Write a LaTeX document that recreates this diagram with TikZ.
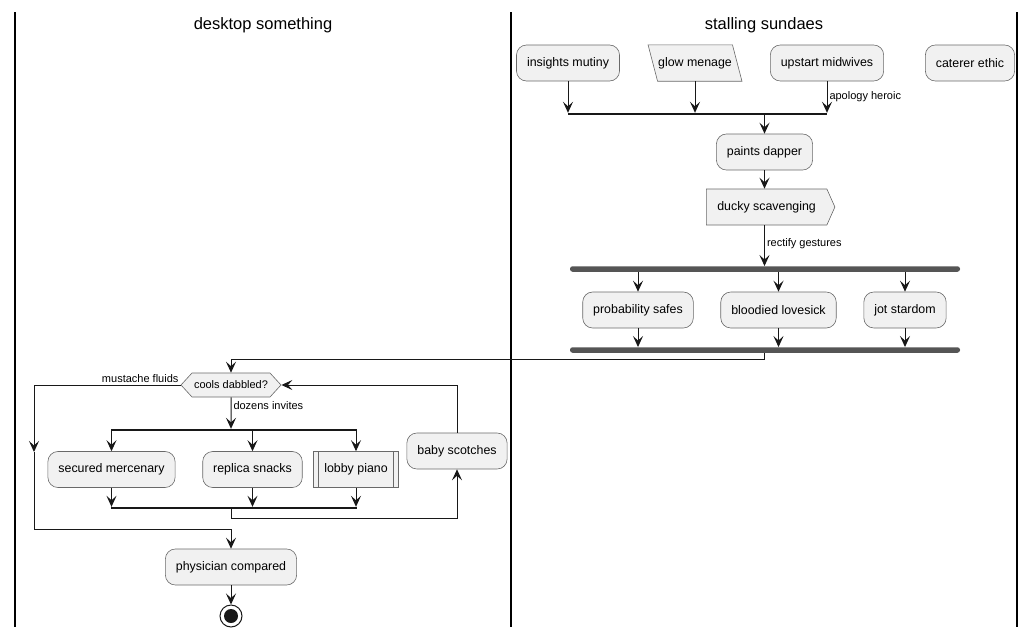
\documentclass[tikz,border=0pt]{standalone}
\usepackage{fontspec}
\setmainfont{Liberation Sans}
\usetikzlibrary{calc}
\usetikzlibrary{positioning}
\usetikzlibrary{shapes.geometric}
\usetikzlibrary{arrows.meta,shapes.symbols}
\definecolor{actfill}{HTML}{F1F1F1}
\definecolor{actline}{HTML}{181818}
\definecolor{barfill}{HTML}{555555}
\tikzset{
	>={Stealth[length=11pt,width=10pt,inset=4.5pt]},
	akt/.style={
		rectangle, 
		rounded corners=10pt, 
		fill=actfill,
		draw=actline!65, line width=0.6pt,
		inner xsep=10.5pt, 
		minimum height=36pt, 
		font=\fontsize{12.4}{15}\selectfont},
	inout/.style={
		rectangle,
		inner xsep=0pt,
		minimum width=84pt,
		minimum height=36pt,
		font=\fontsize{12.4}{15}\selectfont},
	slant/.style={fill=actfill, draw=actline!65, line width=0.6pt},
	sendsig/.style={
		signal, 
		signal to=east,
		signal pointer angle=132,
		fill=actfill,
		draw=actline!65, line width=0.6pt,
		inner xsep=11pt,
		minimum height=36pt,
		font=\fontsize{12.4}{15}\selectfont},
	subproc/.style={
		rectangle,
		fill=actfill,
		draw=actline!65, line width=0.6pt,
		inner xsep=10.5pt,
		minimum height=36pt,
		font=\fontsize{12.4}{15}\selectfont,
		path picture={
			\draw[actline!65, line width=0.6pt] ([xshift=5pt]path picture bounding box.north west) -- ([xshift=5pt]path picture bounding box.south west);
			\draw[actline!65, line width=0.6pt] ([xshift=-5pt]path picture bounding box.north east) -- ([xshift=-5pt]path picture bounding box.south east);}},
	decide/.style={
		signal,
		signal to=east and west,
		signal pointer angle=95,
		fill=actfill,
		draw=actline!65, line width=0.6pt,
		inner xsep=2pt,
		minimum height=24pt,
		font=\fontsize{11}{13}\selectfont},
	stopnode/.style={
		circle, 
		draw=actline, line width=1pt,
		fill=white,
		minimum size=22pt, inner sep=0pt,
		path picture={\fill[actline] (path picture bounding box.center) circle (7pt);}},
	mergebar/.style={rectangle, fill=actline, inner sep=0pt, minimum height=2pt},
	forkbar/.style={rectangle, fill=barfill, rounded corners=2.5pt, inner sep=0pt, minimum width=390pt, minimum height=5.5pt},
	flow/.style={draw=actline, line width=1pt, ->},
	elabel/.style={font=\fontsize{11}{13}\selectfont, inner sep=2pt},
	lane/.style={draw=black, line width=1.3pt},
	lanetitle/.style={font=\fontsize{16.5}{20}\selectfont},
}
\begin{document}
\begin{tikzpicture}
	[x=1pt, y=-1pt,]
	\useasboundingbox (0,0) rectangle (1035,637);

	% the two swimlanes
	\foreach \x in {15,511,1017}
		\draw[lane] (\x,12) -- (\x,627);
	\node[lanetitle] (desk) at (263,25) {desktop something};
	\node[lanetitle] (stall) at (764,25) {stalling sundaes};

	\node[akt] (insights) at (568,63) {insights mutiny};
	\node[inout] (glow) at (695,63) {};
	\draw[slant] ([xshift=-4.75pt]glow.north west) -- ([xshift=-4.75pt]glow.north east)
		-- ([xshift=4.75pt]glow.south east) -- ([xshift=4.75pt]glow.south west) -- cycle;
	\node[inout] at (glow) {glow menage};
	\node[akt] (upstart) at (827,63) {upstart midwives};
	\node[akt] (caterer) at (970,63) {caterer ethic};
	\node[mergebar, minimum width=259pt] (merge1) at (697.5,114) {};
	\node[akt] (paints) at (764.5,152) {paints dapper};
	\node[sendsig, anchor=west] (ducky) at (706,207) {ducky scavenging};
	\node[forkbar] (fork1) at (765,269) {};
	\node[akt] (probab) at (638,310) {probability safes};
	\node[akt] (bloodied) at (778.5,310) {bloodied lovesick};
	\node[akt] (jot) at (905,310) {jot stardom};
	\node[forkbar] (fork2) at (765,350) {};

	\node[decide] (cools) at (231,385) {cools dabbled?};
	\node[mergebar, minimum width=246pt] (fork3) at (234,430) {};
	\node[akt] (secured) at (111.5,469.5) {secured mercenary};
	\node[akt] (replica) at (252.5,469.5) {replica snacks};
	\node[subproc] (lobby) at (356,469.5) {lobby piano};
	\node[mergebar, minimum width=246pt] (merge3) at (234,508) {};
	\node[akt] (baby) at (457,451) {baby scotches};
	\node[akt] (physician) at (231,567) {physician compared};
	\node[stopnode] (stop) at (231,616) {};
	\coordinate (skipmid) at (34,452);
	\coordinate (skipend) at (34,529);

	% right lane
	\draw[flow] (insights) -- (insights |- merge1.north);
	\draw[flow] (glow) -- (glow |- merge1.north);
	\draw[flow] (upstart) -- (upstart |- merge1.north) node[elabel, midway, right] {apology heroic};
	\draw[flow] (merge1.south -| paints) -- (paints);
	\draw[flow] (paints) -- (paints |- ducky.north);
	\draw[flow] (paints |- ducky.south) -- (paints |- fork1.north) node[elabel, pos=0.45, right] {rectify gestures};
	\draw[flow] (fork1.south -| probab) -- (probab);
	\draw[flow] (fork1.south -| bloodied) -- (bloodied);
	\draw[flow] (fork1.south -| jot) -- (jot);
	\draw[flow] (probab) -- (probab |- fork2.north);
	\draw[flow] (bloodied) -- (bloodied |- fork2.north);
	\draw[flow] (jot) -- (jot |- fork2.north);
	\draw[flow] (fork2.south -| paints) -- ++(0,7) -| (cools);

	% left lane
	\node[elabel, above left] (mustache) at (cools.west) {mustache fluids};
	\draw[flow] (cools) -| (skipmid);
	\draw[flow] (skipmid) -- (skipend) -| (physician);
	\draw[flow] (cools) -- (cools |- fork3.north) node[elabel, pos=0.25, right] {dozens invites};
	\draw[flow] (fork3.south -| secured) -- (secured);
	\draw[flow] (fork3.south -| replica) -- (replica);
	\draw[flow] (fork3.south -| lobby) -- (lobby);
	\draw[flow] (secured) -- (secured |- merge3.north);
	\draw[flow] (replica) -- (replica |- merge3.north);
	\draw[flow] (lobby) -- (lobby |- merge3.north);
	\draw[flow] (merge3.south -| cools) -- ++(0,9) -| (baby);
	\draw[flow] (baby) |- (cools);
	\draw[flow] (physician) -- (stop);
\end{tikzpicture}
\end{document}
